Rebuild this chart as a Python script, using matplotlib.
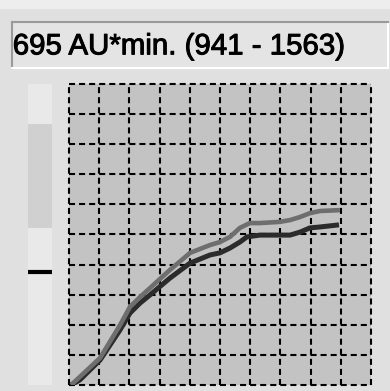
import numpy as np
import matplotlib
matplotlib.use("Agg")
from matplotlib import pyplot as plt
from matplotlib import patheffects

# area readout shown in the header box
area_text = "695 AU*min. (941 - 1563)"

# two integration traces (x and y in grid units)
dark_x = [0.07, 0.36, 1.03, 1.36, 1.69, 2.02, 2.35, 2.68, 3.34, 4.01, 4.67, 5.0,
          5.33, 5.66, 5.89, 6.32, 6.99, 7.32, 7.65, 7.98, 8.31, 8.94]
dark_y = [0.0, 0.17, 0.83, 1.33, 1.83, 2.39, 2.72, 2.99, 3.55, 4.05, 4.32, 4.39,
          4.55, 4.75, 4.92, 4.98, 4.98, 4.98, 5.08, 5.22, 5.25, 5.32]
light_x = [0.07, 1.03, 1.69, 2.02, 2.35, 2.68, 3.34, 4.01, 4.67, 5.0, 5.33,
           5.66, 5.99, 6.32, 6.99, 7.32, 7.65, 7.98, 8.31, 8.97]
light_y = [0.0, 0.9, 1.99, 2.6, 2.92, 3.22, 3.82, 4.39, 4.65, 4.75, 4.92,
           5.22, 5.38, 5.38, 5.42, 5.48, 5.58, 5.71, 5.78, 5.81]

# side scale: shaded range and current level marker
range_lo, range_hi = 5.22, 8.67
level = 3.75

W, H = 390, 391
fig = plt.figure(figsize=(W / 100, H / 100), dpi=100)
fig.patch.set_facecolor("#e0e0e0")


def px_axes(x0, y0, x1, y1):
    # axes from pixel box (top-left origin)
    return fig.add_axes([x0 / W, 1 - y1 / H, (x1 - x0) / W, (y1 - y0) / H])


# light strip along the top edge
top = px_axes(0, 0, W, 9)
top.set_facecolor("#ededed")
top.set_xticks([]); top.set_yticks([])
for s in top.spines.values():
    s.set_visible(False)

# header box
box = px_axes(12, 22, 388, 68)
box.set_facecolor("#e4e4e4")
box.set_xticks([]); box.set_yticks([])
box.spines["top"].set_color("#9a9a9a")
box.spines["left"].set_color("#9a9a9a")
box.spines["bottom"].set_color("#ffffff")
box.spines["right"].set_color("#ffffff")
for s in box.spines.values():
    s.set_linewidth(1.5)
box.text(0.002, 0.47, area_text, transform=box.transAxes, ha="left", va="center",
         fontsize=21.2, family="Liberation Sans", color="#000000",
         path_effects=[patheffects.withStroke(linewidth=0.7, foreground="#000000")])

# side scale bar
bar = px_axes(28, 84, 52, 385)
bar.set_xlim(0, 1)
bar.set_ylim(0, 10)
bar.set_facecolor("#e9e9e9")
bar.axhspan(range_lo, range_hi, color="#d0d0d0", lw=0)
bar.axhline(level, color="#000000", lw=3)
bar.set_xticks([]); bar.set_yticks([])
for s in bar.spines.values():
    s.set_visible(False)

# main plot, dashed 10x10 grid (three dash periods per cell)
ax = px_axes(69, 84, 371, 385)
ax.set_facecolor("#c3c3c3")
ax.set_xlim(0, 10)
ax.set_ylim(0, 10)
for s in ax.spines.values():
    s.set_visible(False)
ax.set_xticks([]); ax.set_yticks([])
dash = (0, (2.9, 1.93))
for v in np.arange(0, 11):
    ax.axvline(v, color="#000000", lw=1.5, ls=dash, clip_on=False, zorder=1)
    ax.axhline(v, color="#000000", lw=1.5, ls=dash, clip_on=False, zorder=1)

ax.plot(dark_x, dark_y, color="#2b2b2b", lw=3.6, solid_capstyle="butt",
        solid_joinstyle="round", zorder=3)
ax.plot(light_x, light_y, color="#6e6e6e", lw=3.3, solid_capstyle="butt",
        solid_joinstyle="round", zorder=4)

fig.savefig("out.png", dpi=100, facecolor=fig.get_facecolor())
